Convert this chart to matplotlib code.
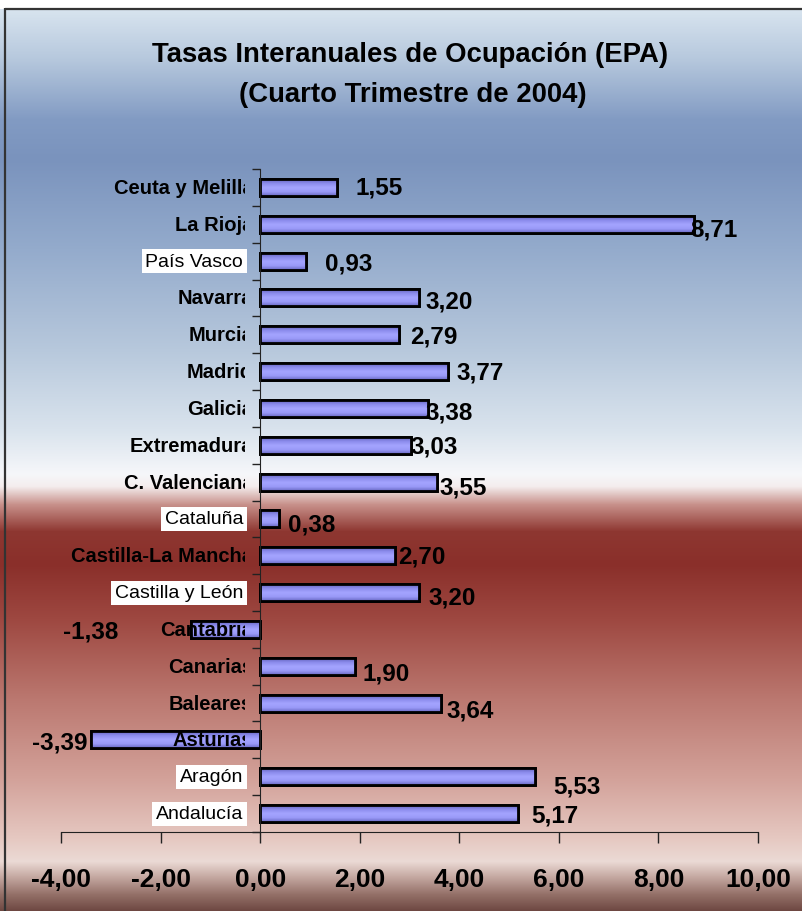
import numpy as np
import matplotlib
matplotlib.use("Agg")
import matplotlib.pyplot as plt
import matplotlib.font_manager as fm
from matplotlib.colors import to_rgb, LinearSegmentedColormap
from matplotlib.transforms import Bbox, offset_copy
from matplotlib.ticker import FixedLocator

# ---------------- data ----------------
categories = ["Ceuta y Melilla", "La Rioja", "País Vasco", "Navarra", "Murcia",
              "Madrid", "Galicia", "Extremadura", "C. Valenciana", "Cataluña",
              "Castilla-La Mancha", "Castilla y León", "Cantabria", "Canarias",
              "Baleares", "Asturias", "Aragón", "Andalucía"]
values = [1.55, 8.71, 0.93, 3.20, 2.79, 3.77, 3.38, 3.03, 3.55, 0.38,
          2.70, 3.20, -1.38, 1.90, 3.64, -3.39, 5.53, 5.17]
boxed_labels = ["País Vasco", "Cataluña", "Castilla y León", "Aragón", "Andalucía"]
x_ticks = [-4, -2, 0, 2, 4, 6, 8, 10]
title_lines = ["Tasas Interanuales de Ocupación (EPA)", "(Cuarto Trimestre de 2004)"]

# label offsets in pixels (dx, dy up)
label_offsets = [(18, 0), (-4, -5), (19, -2), (6, -3), (11, -1), (9, 0), (-3, -4),
                 (-1, -1), (3, -5), (9, -5), (4, 0), (9, -4), (-73, -2), (8, -7),
                 (5, -7), (-4, -2), (18, -9), (14, -1)]

# ---------------- fonts ----------------
names = {f.name for f in fm.fontManager.ttflist}
base = "Liberation Sans" if "Liberation Sans" in names else "DejaVu Sans"
plt.rcParams["font.family"] = [base, "DejaVu Sans"]

W, H = 803, 912
fig = plt.figure(figsize=(W / 100, H / 100), dpi=100)

# ---------------- background gradient ----------------
stops = [(10, '#d8e4ef'), (60, '#b6c8dd'), (120, '#829bc3'), (160, '#7a93bd'),
         (250, '#94abcc'), (350, '#b7c8dc'), (430, '#d9e3ed'), (475, '#f6f7fa'),
         (487, '#f4eded'), (505, '#c8918b'), (532, '#8e3731'), (565, '#8a2f2a'),
         (620, '#9e4841'), (700, '#bb7870'), (780, '#d3a29a'), (840, '#e6c9c2'),
         (862, '#ebdad5'), (877, '#c6aaa3'), (895, '#947068'), (912, '#6c4640')]
ys = np.arange(H)
sy = np.array([s[0] for s in stops], float)
cols = np.array([to_rgb(s[1]) for s in stops])
img = np.zeros((H, 1, 3))
for c in range(3):
    img[:, 0, c] = np.interp(ys, sy, cols[:, c])
img[:10, 0, :] = 1.0
bg = fig.add_axes([0, 0, 1, 1], zorder=-10)
bg.imshow(img, aspect="auto", extent=(0, W, H, 0), interpolation="bilinear")
bg.set_xlim(0, W)
bg.set_ylim(H, 0)
bg.axis("off")
bg.plot([5, W], [9.5, 9.5], color="#333333", lw=1.6, solid_capstyle="butt")
bg.plot([5.5, 5.5], [9, H], color="#333333", lw=1.6, solid_capstyle="butt")

# ---------------- main axes ----------------
left, right = 61 / W, 758 / W
bottom, top = 1 - 833 / H, 1 - 170 / H
ax = fig.add_axes([left, bottom, right - left, top - bottom])
ax.set_facecolor("none")
n = len(categories)
ypos = np.arange(n)
bars = ax.barh(ypos, values, height=0.46, color="#9898f4", edgecolor="black",
               linewidth=2.0, zorder=3)
ax.set_xlim(x_ticks[0], x_ticks[-1])
ax.set_ylim(n - 0.5, -0.5)
ax.set_autoscale_on(False)

bar_cmap = LinearSegmentedColormap.from_list(
    "barg", ["#6262bc", "#8c8cec", "#a4a4ff", "#9a9af8", "#6a6ac4"])
grad = np.linspace(0, 1, 64).reshape(-1, 1)
for b in bars:
    x0, y0 = b.get_x(), b.get_y()
    w, h = b.get_width(), b.get_height()
    im = ax.imshow(grad, cmap=bar_cmap, aspect="auto",
                   extent=(min(x0, x0 + w), max(x0, x0 + w), y0 + h, y0),
                   zorder=3.5, interpolation="bilinear")
    im.set_clip_path(b)
    ax.add_patch(plt.Rectangle((x0, y0), w, h, facecolor="none",
                               edgecolor="black", linewidth=2.0, zorder=4))

for s in ["top", "right"]:
    ax.spines[s].set_visible(False)
ax.spines["left"].set_position(("data", 0))
ax.spines["left"].set_color("#222222")
ax.spines["bottom"].set_color("#222222")
ax.spines["left"].set_zorder(5)

ax.yaxis.set_major_locator(FixedLocator(list(np.arange(-0.5, n, 1.0))))
ax.yaxis.set_tick_params(which="major", direction="out", length=6, width=1,
                         color="#222222", labelleft=False)

ax.set_xticks(x_ticks)
ax.set_xticklabels([f"{t:.2f}".replace(".", ",") for t in x_ticks],
                   fontsize=19, fontweight="bold")
ax.tick_params(axis="x", direction="out", length=8, width=1, color="#222222",
               pad=17)

# category labels
clipbox = Bbox.from_extents(0, 0, 245, H)
for i, name in enumerate(categories):
    if name in boxed_labels:
        tr = offset_copy(ax.transData, fig=fig, x=-17, y=0, units="dots")
        ax.text(0, i, name, transform=tr, ha="right", va="center",
                fontsize=14, color="black", zorder=6,
                bbox=dict(facecolor="white", edgecolor="none", pad=2.5))
    else:
        tr = offset_copy(ax.transData, fig=fig, x=-7, y=0, units="dots")
        t = ax.text(0, i, name, transform=tr, ha="right", va="center",
                    fontsize=14.5, fontweight="bold", color="black", zorder=6)
        t.set_clip_on(True)
        t.set_clip_path(None)
        t.set_clip_box(clipbox)

# value labels
for i, (v, off) in enumerate(zip(values, label_offsets)):
    ax.annotate(f"{v:.2f}".replace(".", ","), xy=(v, i), xytext=off,
                textcoords="offset pixels", ha="left" if v >= 0 else "right",
                va="center", fontsize=17.5, fontweight="bold", color="black",
                zorder=7, annotation_clip=False)

# title
fig.text(410 / W, 1 - 55 / H, title_lines[0], ha="center", va="center",
         fontsize=19.8, fontweight="bold")
fig.text(413 / W, 1 - 95 / H, title_lines[1], ha="center", va="center",
         fontsize=19.8, fontweight="bold")

fig.savefig("out.png", dpi=100)
